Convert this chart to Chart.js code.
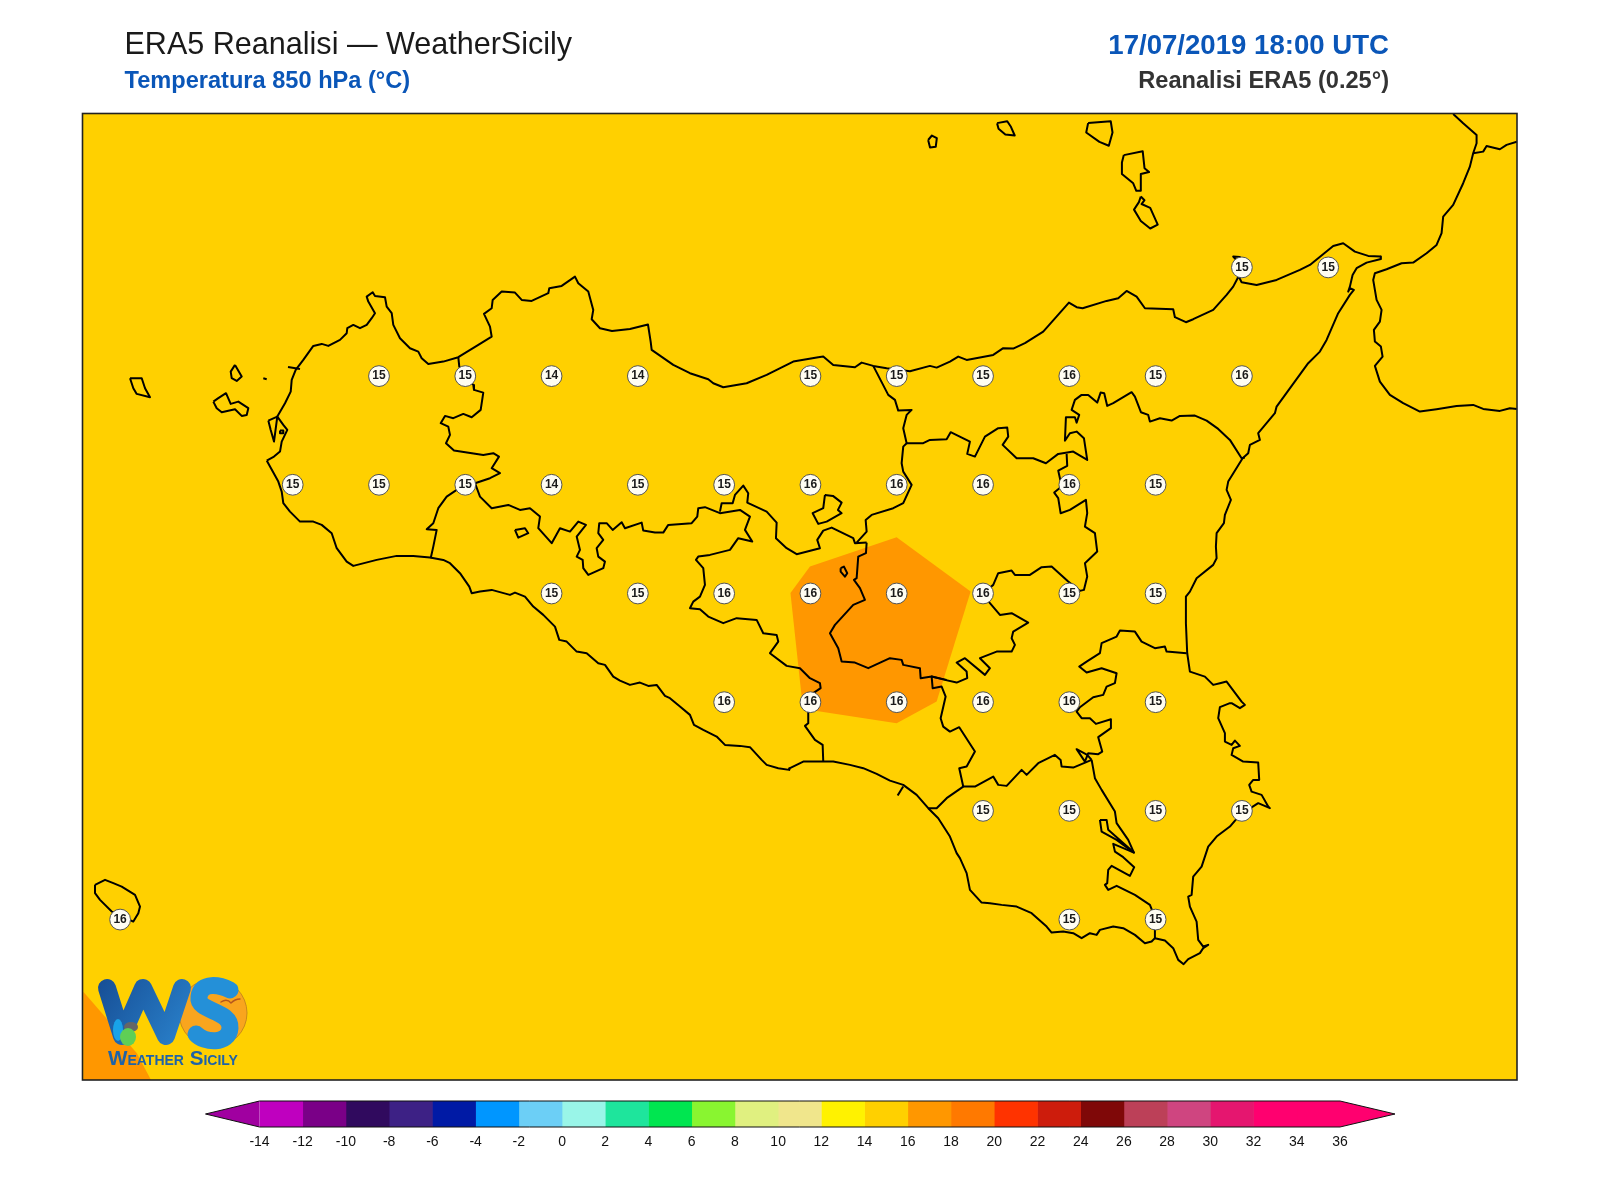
<!DOCTYPE html>
<html>
<head>
<meta charset="utf-8">
<title>ERA5 Reanalisi - WeatherSicily</title>
<script src="https://cdn.jsdelivr.net/npm/chart.js@4"></script>
<style>
    body { margin: 0; background: #fff; }
    #mapChart { position: absolute; left: 0; top: 0; }
    #barChart { position: absolute; left: 0; top: 1090px; }
</style>
</head>
<body>
<canvas id="mapChart" width="1600" height="1085"></canvas>
<canvas id="barChart" width="1600" height="70"></canvas>
<script>
// Valori di griglia (lon, lat, temperatura a 850 hPa)
const gridLons = [
    15.25, 15.5,
    12.75, 13, 13.25, 13.5, 14, 14.25, 14.5, 14.75, 15, 15.25,
    12.5, 12.75, 13, 13.25, 13.5, 13.75, 14, 14.25, 14.5, 14.75, 15,
    13.25, 13.5, 13.75, 14, 14.25, 14.5, 14.75, 15,
    13.75, 14, 14.25, 14.5, 14.75, 15,
    14.5, 14.75, 15, 15.25,
    12, 14.75, 15,
];
const gridLats = [
    38.25, 38.25,
    38, 38, 38, 38, 38, 38, 38, 38, 38, 38,
    37.75, 37.75, 37.75, 37.75, 37.75, 37.75, 37.75, 37.75, 37.75, 37.75, 37.75,
    37.5, 37.5, 37.5, 37.5, 37.5, 37.5, 37.5, 37.5,
    37.25, 37.25, 37.25, 37.25, 37.25, 37.25,
    37, 37, 37, 37,
    36.75, 36.75, 36.75,
];
const gridTemps = [
    15, 15,
    15, 15, 14, 14, 15, 15, 15, 16, 15, 16,
    15, 15, 15, 14, 15, 15, 16, 16, 16, 16, 15,
    15, 15, 16, 16, 16, 16, 15, 15,
    16, 16, 16, 16, 16, 15,
    15, 15, 15, 15,
    16, 15, 15,
];

// Scala colori
const barEdges = [-14, -12, -10, -8, -6, -4, -2, 0, 2, 4, 6, 8, 10, 12, 14, 16, 18, 20, 22, 24, 26, 28, 30, 32, 34, 36];
const barColors = [
    "#bf00bf", "#7a0087", "#300a5e", "#3d2185", "#001aa5", "#0096ff", "#6ccff6", "#99f5e8",
    "#1ee59c", "#00e650", "#89f530", "#e0f080", "#f0e68c", "#fff200", "#ffd000", "#ff9700",
    "#ff7900", "#ff3300", "#cd1c0c", "#7f0808", "#bc4058", "#cf4580", "#e5166f", "#ff006f", "#ff006f",
];

// Coste e confini ricalcati dalla figura: coppie x,y in pixel del riferimento, convertite poi in lon/lat
const warmArea = [896.7,537.3, 970.7,591.7, 936.7,701.7, 896.7,723.3, 820,711.7, 803,709, 790.5,593, 810,566.7];

const sicilyCoast = [
    266.7,460.7, 274,456.7, 280,451.7, 281.7,441.7, 287.3,430, 283.3,425, 277.3,416.7, 285,403.3, 290.7,391.7,
    291.7,380, 295.7,370, 303.3,360, 313.3,346, 321.7,344, 328.3,346, 340,340, 346.7,333.3, 347.3,328.3,
    353.3,325, 360,328.3, 366.7,325, 371.7,318.3, 375,313.3, 368.3,301.7, 366.7,296.7, 372.7,292.3, 375,296,
    385,297.3, 386.7,306.7, 391.7,313.3, 393.3,325, 400,338.3, 410,348.3, 418.3,351.7, 421.7,358.3, 428.3,364,
    443.3,361.7, 458.3,357.3, 476.7,346, 491.7,336.7, 490,326.7, 484,314, 491.7,308.3, 492.7,300, 501.7,291.7,
    515,292.7, 521.7,300, 531.7,301, 548.3,293.3, 549.3,288.3, 561.7,286, 575,276.7, 578.3,283.3, 588.3,291.7,
    593.3,310, 591.7,319.3, 600,328.3, 612,331, 630,329, 648,324.5, 650.7,341.7, 651.7,350, 673.3,365, 690,373.3,
    708.3,379.3, 713.3,383.3, 723.3,387.3, 746.7,383.3, 766.7,375, 793.3,361.7, 818.3,357.3, 823.3,356.7,
    833.3,365, 855,367.3, 861.7,362.7, 873.3,366, 886.7,368.3, 910,371.3, 930,366, 936.7,367.7, 950,361.7,
    958.3,356.7, 966.7,360, 993.3,355, 1003.3,348.3, 1013.3,348.7, 1025,343.3, 1043.3,331.7, 1069,302.7,
    1076.7,307.3, 1082.7,308.3, 1106.7,301, 1118.3,298.3, 1126.7,291, 1136.7,296.7, 1145,308.3, 1173.3,309.3,
    1175,317.3, 1186,322.3, 1193.3,319.3, 1213.3,310, 1226.7,295, 1233.3,286.7, 1237.7,278.3, 1240,271.7,
    1238,262, 1233.3,256.7, 1240,257, 1240,270, 1239.3,278.3, 1241.7,282.3, 1256.7,285, 1276.7,280, 1300,270,
    1310,265, 1333.3,246, 1343.3,243.3, 1355,251.7, 1368.3,256, 1380.7,256.7, 1381,259, 1366.7,262.7,
    1356.7,268.3, 1352.7,275, 1350,286.7, 1348.3,291.7, 1350,288.3, 1354,290, 1350,295, 1338.3,313.3,
    1326.7,340, 1320,351.7, 1308.3,363.3, 1276.7,406.7, 1275,413.3, 1258.3,433.3, 1260,440, 1250,445,
    1248.3,453.3, 1242.7,458.3, 1228.3,481.7, 1226.7,490, 1231,500, 1225,515, 1224,523.3, 1216.7,533.3,
    1216,546.7, 1216.7,558.3, 1213.3,565, 1196.7,578.3, 1190,591.7, 1186,596.7, 1186,623.3, 1187.3,653.3,
    1190,671.7, 1205,676.7, 1213.3,685, 1220,683.3, 1226.7,681.7, 1241.7,701.7, 1245,705, 1240,708.3,
    1231.7,703.3, 1230,703.3, 1220,707.3, 1218.3,718.3, 1225,733.3, 1225,741.7, 1231.7,745, 1235,740.7,
    1240,746, 1233.3,748.3, 1231.7,755, 1243.3,761.7, 1258.3,762.7, 1259.3,780, 1253.3,780, 1249.3,785,
    1251.7,791.7, 1261.7,795, 1268.3,806.7, 1270,808.3, 1258.3,803.3, 1240,815, 1230,826.7, 1216.7,836.7,
    1208.3,846.7, 1201.7,866.7, 1193.3,876.7, 1191.7,895, 1188.3,896.7, 1190,906.7, 1196.7,921.7, 1198.3,940,
    1203.3,946.7, 1208.3,945, 1203.3,948.3, 1200,953.3, 1188.3,959.3, 1183.7,964.3, 1178.3,960, 1173.3,948.3,
    1165,940.7, 1155,938.3, 1151.7,941.7, 1145,943.3, 1135,935, 1123.3,928.3, 1113.3,926.7, 1100,930,
    1096.7,935, 1090,933.3, 1081.7,938.3, 1073.3,933.3, 1063.3,931.7, 1051.7,932.7, 1046.7,926.7, 1031.7,913.3,
    1016.7,906.7, 1001.7,905, 990,903.3, 981.7,902.7, 970,890, 966.7,873.3, 960,858.3, 956.7,853.3, 950,836.7,
    938.3,818.3, 928.3,808.3, 916.7,795, 903.3,785, 890,780.7, 876.7,774, 863.3,768.3, 850,765, 833.3,761.7,
    823.3,761.7, 803.3,761.7, 790,768.3, 789.3,770, 778.3,768.3, 766.7,765, 761.7,760, 750,747.3, 740,746,
    725,745, 716.7,736.7, 703.3,730, 694,725, 690,715, 680,706.7, 670,698.3, 665,696, 656.7,685, 648.3,686,
    640,682.7, 630,685, 620,680.7, 613.3,676.7, 605,665, 598.3,663.3, 586.7,653.3, 576.7,651.7, 566.7,641.7,
    559.3,640, 555,626.7, 543.3,615, 533.3,606.7, 525,596.7, 515,592.7, 510,595, 491.7,590, 480,591.7,
    471.7,593.3, 469.3,586.7, 460,573.3, 450,563.3, 443.3,560, 430,557.7, 413.3,556, 396.7,556, 376.7,560,
    353.3,566, 346.7,561.7, 336.7,548.3, 331.7,533.3, 321.7,525, 313.3,521.7, 300,521.7, 290,511.7, 283.3,503.3,
    281.7,491.7, 278.3,481.7, 270,466.7, 266.7,460.7,
];
const stagnone = [268.3,420.7, 277.3,416.7, 274,441.7, 270.7,430, 268.3,420.7];
const stagnoneIslet = [280,430.7, 283.3,430.7, 283.3,433.3, 280,433.3, 280,430.7];
const trapaniPort = [288,367, 300,369];
const formica = [263.3,378.3, 266.7,379.3];
const marettimo = [130,378.3, 141.7,378.3, 145,388.3, 150,397.3, 136.7,394, 133.3,388.3, 130,378.3];
const levanzo = [235,365, 241.7,376.7, 236.7,381, 231.7,378.3, 230.7,371.7, 235,365];
const favignana = [213.3,401.7, 218.3,398.3, 226,393.3, 230.7,404, 238.3,401.7, 248.3,408.3, 246.7,415, 241.7,416, 235,409.3, 221.7,412.3, 216.7,408.3, 213.3,401.7];
const linosa = [95,885, 105,880, 113.3,883.3, 121.7,886.7, 135,895, 140,906.7, 138.3,913.3, 133.3,921.7, 111.7,911.7, 100,900, 95,893.3, 95,885];
const alicudi = [928.2,140.1, 932,135.6, 936.9,138.2, 935.8,146.9, 930.1,147.6, 928.2,140.1];
const filicudi = [997.1,123.2, 1007.3,121.3, 1011,126.9, 1014.8,135.6, 1005.4,134.5, 998.6,128.8, 997.1,123.2];
const salina = [1088.2,123.2, 1110.8,121.3, 1112.6,132.6, 1108.9,145.8, 1099.5,142, 1086.3,132.6, 1088.2,123.2];
const lipari = [1123.9,155.2, 1142.8,151.4, 1144.6,168.3, 1149.2,172.1, 1140.9,174, 1140.9,190.9, 1136.4,190.9, 1133.3,183.4, 1122,174, 1122,162.7, 1123.9,155.2];
const vulcano = [1140.9,196.6, 1144.6,200.3, 1141.6,204.1, 1150.3,207.9, 1157.8,224.8, 1150.3,228.6, 1140.9,221, 1134.1,209.7, 1139,202.2, 1140.9,196.6];
const calabriaCoast = [
    1453.3,114, 1463.3,123.3, 1476.7,135, 1476.7,143.3, 1473.3,153.3, 1470,166.7, 1463.3,183.3, 1453.3,205,
    1443.3,216.7, 1441.7,233.3, 1436.7,245, 1426.7,253.3, 1413.3,262.7, 1401.7,263.3, 1386.7,269.3, 1375,273.3,
    1373.3,280, 1376.7,300, 1381.7,310, 1380,321.7, 1374,330, 1375,341.7, 1381,346.7, 1382.7,356.7, 1375,366,
    1380,381.7, 1390,395, 1403.3,403.3, 1420,411.7, 1436.7,409.3, 1456.7,406, 1473.3,405, 1483.3,409, 1500,411,
    1510,408.3, 1517,409,
];
const calabriaBorder = [1473.3,153.3, 1483.3,151.7, 1486.7,146, 1500,149.3, 1506.7,145, 1517,141.7];
const borderTrapani = [
    458.3,357.3, 459.3,366.7, 465,376.3, 473.3,385, 474,390, 483.3,392.7, 480.7,410, 471.7,417.3, 463.3,414,
    453.3,418.3, 445,416, 440.7,423.3, 448.3,426.7, 450,435, 446,443.3, 454,450.7, 483.3,455, 493.3,453.3,
    499,456.7, 491.7,468.3, 500,473.3, 490,478.3, 475,483.3, 465,485, 456.7,490, 446.7,496.7, 438.3,508.3,
    433.3,523.3, 426.7,529.3, 436.7,530, 433.3,546.7, 430.7,558.3,
];
const borderAgrigento = [
    475,483.3, 480,496.7, 491.7,508.3, 508.3,505, 520,510, 530,508.3, 540,516.7, 538.3,528.3, 551.7,543.3,
    560,528.3, 570,531.7, 578.3,521.7, 586,525, 576.7,536.7, 580,550, 576.7,556.7, 582.7,560, 583.3,568.3,
    588.3,575, 603.3,568.3, 605,561.7, 598.3,556.7, 596.7,548.3, 603.3,540, 598.3,533.3, 599.3,523.3, 606.7,523.3,
    612.7,530, 621.7,522.3, 625,528.3, 641.7,522.7, 643.3,530.7, 655,532.7, 663.3,532.7, 668.3,525, 691.7,523.3,
    697.3,516.7, 698.3,508.3, 705,507.3, 720,513.3, 740,510, 750,516.7, 745,530, 752.3,541.7, 738.3,538.3, 730,550,
    710,555, 698.3,556.7, 696,560, 703.3,568.3, 705,585, 700,596.7, 693.3,601.7, 690,608.3, 700,609.3, 708.3,616.7,
    723.3,623.3, 736.7,618.3, 756.7,620, 763.3,633.3, 776.7,635, 778.3,641.7, 770,653.3, 786.7,666, 800,668.3,
    810,678.3, 820,683.3, 820.7,688.3, 813.3,693.3, 808.3,711.7, 808.3,723.3, 805,726, 815,740, 822.7,745, 823.3,761.7,
];
const borderPalermoSouth = [
    720,511.7, 721.7,503.3, 732.7,503.3, 735,495, 743.3,485.7, 748.3,493.3, 747.3,502.7, 766.7,511.7, 776.7,522.7,
    776,538.3, 786.7,548.3, 796.7,554.3, 820,548.3, 817.3,540, 823.3,530.7, 831.7,527.7, 853.3,538.3, 855,543.3, 866.7,542.7,
];
const borderPalermoEast = [
    856.7,542.7, 866.7,531.7, 865.7,520, 871.7,515, 893.3,508.3, 903.3,503.3, 911.7,485, 903.3,471.7, 901.7,463.3,
    903.3,446.7, 906.7,443.3, 903.3,428.3, 906.7,415, 911.7,410, 898.3,410.7, 895,400, 888.3,395, 873.3,366,
];
const borderCaltanissetta = [
    866.7,542.7, 866,553.3, 858.3,556.7, 856.7,578.3, 854,580, 860,588.3, 865,600, 853.3,605, 835,625, 830,633.3,
    838.3,648.3, 841.7,661.7, 855,662.7, 868.3,668.3, 890,658.3, 901.7,660, 903.3,665, 920,668.3, 920.7,678.3,
    931.7,676.7, 946.7,680,
];
const pergusa = [840.7,568.3, 844,566.7, 847.3,573.3, 845,576.7, 840.7,571.7, 840.7,568.3];
const enclavePalermo = [825,495, 833,496, 841.7,502.7, 838,510, 841.7,513.3, 826.7,521.7, 818.3,524, 812.7,513.3, 823.3,508.3, 825,495];
const enclaveAgrigento = [515,530, 525,528.3, 528.3,533.3, 518.3,537.7, 515,530];
const borderMessina = [
    906.7,443.3, 923.3,443.3, 930,440, 946.7,439.3, 950.7,432.3, 970,441.7, 967.3,454, 975,456.7, 985,436.7,
    998.3,428.3, 1007.3,427.7, 1008.3,436.7, 1002.7,445, 1016.7,458.3, 1033.3,458.3, 1046,463.3, 1058.3,454,
    1073.3,451.7, 1087.3,460, 1084,438.3, 1076.7,431.7, 1070,433.3, 1065,440.7, 1066,417.3, 1075,417.3, 1076.7,422.7,
    1079.3,415, 1071.7,410, 1075,400, 1081.7,395, 1088.3,395, 1097.3,402.7, 1100.7,392.7, 1104.3,393.3, 1107.3,406,
    1113.3,403.3, 1131.7,392.3, 1135,396.7, 1141,412.3, 1148.3,415, 1150,421.7, 1160,418.3, 1171.7,420.7, 1180,416,
    1195,415.7, 1206.7,420.7, 1218.3,429, 1230,440, 1241.7,458.3, 1245,457.7,
];
const borderEnna = [
    1066.7,454, 1067.3,466, 1058.3,470.7, 1060,478.3, 1061.7,486.7, 1054.3,492.7, 1058.3,498.3, 1060.7,513.3, 1070,510,
    1086,500, 1087.3,513.3, 1085,526.7, 1095,533.3, 1097.3,551.7, 1085,563.3, 1087.3,576.7, 1084,590, 1080,591,
    1068.3,581.7, 1051.7,566.7, 1041.7,567.3, 1030,575, 1015,575, 1011.7,570.7, 998.3,573.3, 993.3,585, 983.3,593.3,
    990,603.3, 1000,615, 1011.7,613.3, 1028.3,622.7, 1013.3,631.7, 1011.7,638.3, 1015,645, 1011.7,651.7, 996.7,651.7,
    980,658.3, 990,668.3, 985,675, 965,658.3, 956.7,662.7, 966.7,671.7, 967.3,678.3, 956.7,682.7, 945,680, 931.7,676.7,
    932.7,688.3, 941.7,686.7, 945.7,696.7, 940.7,718.3, 943.3,726.7, 950,731.7, 959.3,727.3, 975,751.7, 966.7,766.7,
    959.3,768.3, 963.3,786.7, 946.7,798.3, 936.7,808.3, 928.3,808.3,
];
const borderRagusaNorth = [
    963.3,786.7, 975,786.7, 993.3,776.7, 998.3,785, 1006.7,786, 1021.7,770, 1026.7,775, 1038.3,763.3, 1055,755,
    1060.7,760, 1061.7,766.7, 1073.3,767.7, 1091.7,760,
];
const borderCataniaSouth = [
    1186.7,653.3, 1166.7,651.7, 1165,646.7, 1155,648.3, 1141.7,641.7, 1135,631.7, 1120,630.7, 1116.7,636.7, 1101.7,643.3,
    1100,653.3, 1086.7,661.7, 1079.3,666.7, 1086.7,672.7, 1101.7,668.3, 1116.7,673.3, 1115,683.3, 1106.7,686.7, 1103.3,695,
    1093.3,697.3, 1080,707.3, 1076.7,711.7, 1081.7,718.3, 1090,718.3, 1096,724, 1111,719.3, 1111,728.3, 1098.3,737.3,
    1102.3,751.7, 1098.3,754.3, 1088.3,753.3, 1085,761.7, 1076.7,749.3, 1087.3,755, 1091.7,760,
];
const borderSiracusa = [
    1091.7,760, 1095,778.3, 1101.7,790, 1115,811.7, 1116.7,823.3, 1128.3,840, 1134,852.7, 1113.3,844, 1115,851.7,
    1123.3,857.3, 1134.3,867.3, 1130,876, 1111.7,866, 1108.3,870, 1107.3,883.3, 1105,885, 1108.3,890, 1116.7,886,
    1135,895, 1150,905, 1152.7,911.7, 1155,930, 1155,938.3,
];
const enclaveSiracusa = [1100,820, 1106.7,820, 1108.3,830, 1134,852.7, 1116.7,840, 1101.7,831.7, 1100,820];
const gelaPier = [903.3,786.7, 897.7,795.7];
const coastLines = [
    sicilyCoast, stagnone, stagnoneIslet, trapaniPort, formica, marettimo, levanzo, favignana, linosa,
    alicudi, filicudi, salina, lipari, vulcano, calabriaCoast, calabriaBorder,
    borderTrapani, borderAgrigento, borderPalermoSouth, borderPalermoEast, borderCaltanissetta, pergusa,
    enclavePalermo, enclaveAgrigento, borderMessina, borderEnna, borderRagusaNorth, borderCataniaSouth,
    borderSiracusa, enclaveSiracusa, gelaPier,
];

// Da pixel del riferimento a gradi
function toLonLat(flat) {
    const points = [];
    for (let i = 0; i < flat.length; i += 2) {
        points.push({
            x: 12.5 + (flat[i] - 292.7) / 345.2,
            y: 38.25 - (flat[i + 1] - 267.5) / 434.8,
        });
    }
    return points;
}

const mapDatasets = [
    {
        label: "Temperatura",
        order: 0,
        data: gridLons.map((lon, i) => ({ x: lon, y: gridLats[i] })),
        pointRadius: 10.4,
        pointBackgroundColor: "#fffdf2",
        pointBorderColor: "#555",
        pointBorderWidth: 1,
    },
    {
        label: "16-18",
        order: 2,
        data: toLonLat(warmArea),
        showLine: true,
        fill: "shape",
        backgroundColor: "#ff9700",
        borderWidth: 0,
        pointRadius: 0,
    },
];
coastLines.forEach((line, i) => {
    mapDatasets.push({
        label: "coast" + i,
        order: 1,
        data: toLonLat(line),
        showLine: true,
        borderColor: "#000",
        borderWidth: 2,
        borderJoinStyle: "round",
        pointRadius: 0,
    });
});

function drawLogo(ctx) {
    ctx.save();
    // spicchio arancione
    ctx.fillStyle = "#ff9700";
    ctx.beginPath();
    ctx.moveTo(83.3, 991.7);
    ctx.lineTo(136.7, 1053);
    ctx.lineTo(151, 1080);
    ctx.lineTo(83.3, 1080);
    ctx.closePath();
    ctx.fill();
    // sole
    ctx.fillStyle = "#f9a51e";
    ctx.strokeStyle = "#c98a1a";
    ctx.lineWidth = 1;
    ctx.beginPath();
    ctx.arc(213, 1013, 34, 0, Math.PI * 2);
    ctx.fill();
    ctx.stroke();
    // W
    const blue = ctx.createLinearGradient(100, 980, 190, 1040);
    blue.addColorStop(0, "#174f96");
    blue.addColorStop(1, "#2a82cc");
    ctx.strokeStyle = blue;
    ctx.lineWidth = 18;
    ctx.lineJoin = "round";
    ctx.lineCap = "round";
    ctx.beginPath();
    ctx.moveTo(107, 988);
    ctx.lineTo(122, 1036);
    ctx.lineTo(143, 988);
    ctx.lineTo(166, 1036);
    ctx.lineTo(182, 988);
    ctx.stroke();
    // S
    ctx.strokeStyle = "#2490d8";
    ctx.lineWidth = 17;
    ctx.beginPath();
    ctx.moveTo(230, 990);
    ctx.bezierCurveTo(220, 985, 201, 981, 199, 997);
    ctx.bezierCurveTo(197, 1012, 231, 1010, 230, 1028);
    ctx.bezierCurveTo(229, 1045, 204, 1043, 196, 1034);
    ctx.stroke();
    // goccia, foglia e gabbiano
    ctx.fillStyle = "#19a3e8";
    ctx.beginPath();
    ctx.ellipse(118, 1030, 5, 11, 0, 0, Math.PI * 2);
    ctx.fill();
    ctx.fillStyle = "#666";
    ctx.beginPath();
    ctx.ellipse(131, 1027, 7, 5, 0, 0, Math.PI * 2);
    ctx.fill();
    ctx.fillStyle = "#5fcf55";
    ctx.beginPath();
    ctx.ellipse(128, 1037, 8, 9, 0, 0, Math.PI * 2);
    ctx.fill();
    ctx.strokeStyle = "#b5561e";
    ctx.lineWidth = 1.4;
    ctx.beginPath();
    ctx.moveTo(221, 1002);
    ctx.quadraticCurveTo(227, 998, 231, 1003);
    ctx.quadraticCurveTo(235, 999, 240, 999);
    ctx.stroke();
    ctx.fillStyle = "#1f63a8";
    ctx.font = "small-caps bold 20.6px 'Liberation Sans'";
    ctx.textAlign = "left";
    ctx.textBaseline = "alphabetic";
    ctx.fillText("Weather Sicily", 108, 1065);
    ctx.restore();
}

const mapDecor = {
    id: "mapDecor",
    beforeDatasetsDraw(chart) {
        const { ctx, chartArea } = chart;
        ctx.save();
        ctx.fillStyle = "#ffd000";
        ctx.fillRect(chartArea.left, chartArea.top, chartArea.width, chartArea.height);
        ctx.restore();
    },
    afterDatasetsDraw(chart) {
        const { ctx, chartArea } = chart;
        // etichette dei punti
        const meta = chart.getDatasetMeta(0);
        ctx.save();
        ctx.font = "bold 12px 'Liberation Sans'";
        ctx.fillStyle = "#1a1a1a";
        ctx.textAlign = "center";
        ctx.textBaseline = "middle";
        meta.data.forEach((pt, i) => {
            ctx.fillText(String(gridTemps[i]), pt.x, pt.y);
        });
        ctx.restore();

        drawLogo(ctx);

        ctx.save();
        ctx.strokeStyle = "#222";
        ctx.lineWidth = 1.6;
        ctx.strokeRect(chartArea.left, chartArea.top, chartArea.width, chartArea.height);

        ctx.textBaseline = "alphabetic";
        ctx.textAlign = "left";
        ctx.fillStyle = "#1a1a1a";
        ctx.font = "30.56px 'Liberation Sans'";
        ctx.fillText("ERA5 Reanalisi \u2014 WeatherSicily", 124.5, 54);
        ctx.fillStyle = "#0a56b8";
        ctx.font = "bold 23.6px 'Liberation Sans'";
        ctx.fillText("Temperatura 850 hPa (\u00b0C)", 124.5, 88);
        ctx.textAlign = "right";
        ctx.font = "bold 27.6px 'Liberation Sans'";
        ctx.fillText("17/07/2019 18:00 UTC", 1389, 54);
        ctx.fillStyle = "#333";
        ctx.font = "bold 23.6px 'Liberation Sans'";
        ctx.fillText("Reanalisi ERA5 (0.25\u00b0)", 1389, 88);
        ctx.restore();
    },
};

new Chart(document.getElementById("mapChart"), {
    type: "scatter",
    data: { datasets: mapDatasets },
    plugins: [mapDecor],
    options: {
        responsive: false,
        animation: false,
        devicePixelRatio: 1,
        layout: { autoPadding: false, padding: { left: 82.5, right: 83, top: 113.5, bottom: 5 } },
        plugins: { legend: { display: false }, tooltip: { enabled: false } },
        scales: {
            x: { type: "linear", min: 11.891, max: 16.047, display: false },
            y: { type: "linear", min: 36.381, max: 38.604, display: false },
        },
    },
});

// Frecce della barra colori
const barArrows = {
    id: "barArrows",
    afterDatasetsDraw(chart) {
        const { ctx, chartArea: a } = chart;
        const mid = (a.top + a.bottom) / 2;
        ctx.save();
        ctx.fillStyle = "#a000a0";
        ctx.beginPath();
        ctx.moveTo(a.left, a.top);
        ctx.lineTo(a.left - 54, mid);
        ctx.lineTo(a.left, a.bottom);
        ctx.closePath();
        ctx.fill();
        ctx.fillStyle = "#ff006f";
        ctx.beginPath();
        ctx.moveTo(a.right, a.top);
        ctx.lineTo(a.right + 55, mid);
        ctx.lineTo(a.right, a.bottom);
        ctx.closePath();
        ctx.fill();
        ctx.strokeStyle = "#111";
        ctx.lineWidth = 1;
        ctx.beginPath();
        ctx.moveTo(a.left, a.top);
        ctx.lineTo(a.right, a.top);
        ctx.lineTo(a.right + 55, mid);
        ctx.lineTo(a.right, a.bottom);
        ctx.lineTo(a.left, a.bottom);
        ctx.lineTo(a.left - 54, mid);
        ctx.closePath();
        ctx.stroke();
        ctx.restore();
    },
};

new Chart(document.getElementById("barChart"), {
    type: "bar",
    data: {
        labels: [""],
        datasets: barColors.map((color, i) => ({
            label: barEdges[i] + " / " + barEdges[i + 1],
            data: [[barEdges[i], barEdges[i + 1]]],
            backgroundColor: color,
            borderWidth: 0,
            grouped: false,
            categoryPercentage: 1,
            barPercentage: 1,
        })),
    },
    plugins: [barArrows],
    options: {
        indexAxis: "y",
        responsive: false,
        animation: false,
        devicePixelRatio: 1,
        layout: { autoPadding: false, padding: { left: 259.5, right: 260, top: 11, bottom: 7 } },
        plugins: { legend: { display: false }, tooltip: { enabled: false } },
        scales: {
            x: {
                type: "linear",
                min: -14,
                max: 36,
                grid: { display: false, drawTicks: false },
                border: { display: false },
                ticks: {
                    stepSize: 2,
                    autoSkip: false,
                    maxRotation: 0,
                    padding: 7,
                    color: "#111",
                    font: { family: "'Liberation Sans'", size: 14 },
                },
            },
            y: { display: false },
        },
    },
});
</script>
</body>
</html>
